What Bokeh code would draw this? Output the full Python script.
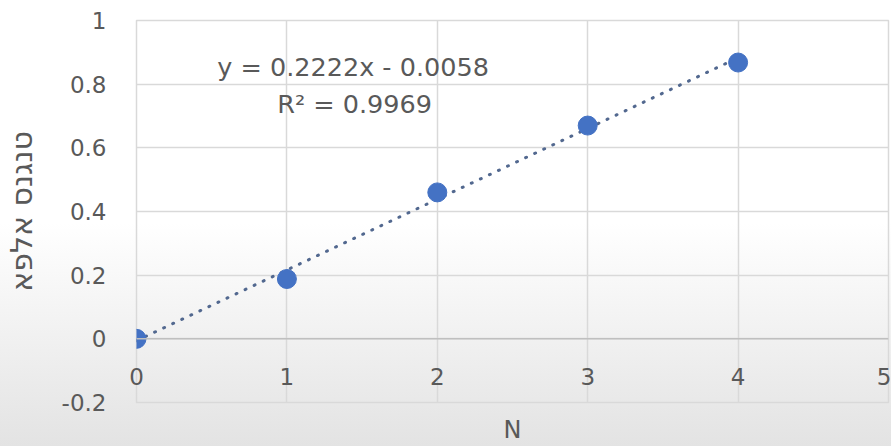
from bokeh.plotting import figure
from bokeh.models import FixedTicker, Label, Span, InlineStyleSheet
from bokeh.embed import file_html
from bokeh.resources import INLINE

# ---- data ----
n_values = [0, 1, 2, 3, 4]
tan_alpha = [0.0, 0.188, 0.46, 0.67, 0.868]

trend_slope = 0.2222
trend_intercept = -0.0058
trend_r2 = 0.9969

x_ticks = [0, 1, 2, 3, 4, 5]
x_tick_labels = ["0", "1", "2", "3", "4", "5"]
y_ticks = [-0.2, 0, 0.2, 0.4, 0.6, 0.8, 1]
y_tick_labels = ["-0.2", "0", "0.2", "0.4", "0.6", "0.8", "1"]

x_title = "N"
y_title = "טנגנס אלפא"

FONT = "DejaVu Sans"
TXT = "#595959"
GRID = "#d9d9d9"
BLUE = "#4472C4"

bg = InlineStyleSheet(css=":host { background: linear-gradient(to bottom, #ffffff 0%, #ffffff 50%, #f1f1f1 75%, #e3e3e3 100%); }")

p = figure(width=891, height=446, x_range=(0, 5), y_range=(-0.2, 1),
           output_backend="svg", toolbar_location=None,
           min_border_left=136, min_border_right=3, min_border_top=20, min_border_bottom=44,
           border_fill_color=None, background_fill_color=None,
           stylesheets=[bg])

p.outline_line_color = GRID
p.outline_line_width = 1.5

# grids
p.xgrid.ticker = FixedTicker(ticks=x_ticks)
p.ygrid.ticker = FixedTicker(ticks=y_ticks)
for g in (p.xgrid, p.ygrid):
    g.grid_line_color = GRID
    g.grid_line_width = 1.5

# horizontal axis line at y = 0
p.add_layout(Span(location=0, dimension="width", line_color="#bfbfbf", line_width=1.5))

# x axis: tick labels pulled up so they sit just under the y = 0 line
xa = p.xaxis[0]
xa.ticker = FixedTicker(ticks=x_ticks)
xa.major_label_overrides = {t: l for t, l in zip(x_ticks, x_tick_labels)}
xa.axis_line_color = None
xa.major_tick_line_color = None
xa.minor_tick_line_color = None
xa.major_tick_in = 0
xa.major_tick_out = 0
xa.major_label_standoff = -35
xa.major_label_text_font = FONT
xa.major_label_text_font_size = "23px"
xa.major_label_text_color = TXT
xa.axis_label = x_title
xa.axis_label_standoff = 28
xa.axis_label_text_font = FONT
xa.axis_label_text_font_size = "24px"
xa.axis_label_text_font_style = "normal"
xa.axis_label_text_color = TXT

ya = p.yaxis[0]
ya.ticker = FixedTicker(ticks=y_ticks)
ya.major_label_overrides = {t: l for t, l in zip(y_ticks, y_tick_labels)}
ya.axis_line_color = None
ya.major_tick_line_color = None
ya.minor_tick_line_color = None
ya.major_tick_in = 0
ya.major_tick_out = 0
ya.major_label_standoff = 30
ya.major_label_text_font = FONT
ya.major_label_text_font_size = "23px"
ya.major_label_text_color = TXT
ya.axis_label = y_title
ya.axis_label_standoff = 20
ya.axis_label_text_font = FONT
ya.axis_label_text_font_size = "30px"
ya.axis_label_text_font_style = "normal"
ya.axis_label_text_color = TXT

# trendline (dotted)
fit_x = [min(n_values), max(n_values)]
fit_y = [trend_slope * x + trend_intercept for x in fit_x]
p.line(fit_x, fit_y, line_color="#52688f", line_width=3, line_dash="1 9", line_cap="round")

# points
p.scatter(n_values, tan_alpha, size=19, fill_color=BLUE, line_color=BLUE)

eq_text = f"y = {trend_slope}x - {abs(trend_intercept)}"
r2_text = f"R² = {trend_r2}"
p.add_layout(Label(x=1.44, y=0.855, text=eq_text, text_align="center", text_baseline="middle",
                   text_font=FONT, text_font_size="25.5px", text_color=TXT))
p.add_layout(Label(x=1.45, y=0.739, text=r2_text, text_align="center", text_baseline="middle",
                   text_font=FONT, text_font_size="25.5px", text_color=TXT))

open("out.html", "w").write(file_html(p, INLINE))
